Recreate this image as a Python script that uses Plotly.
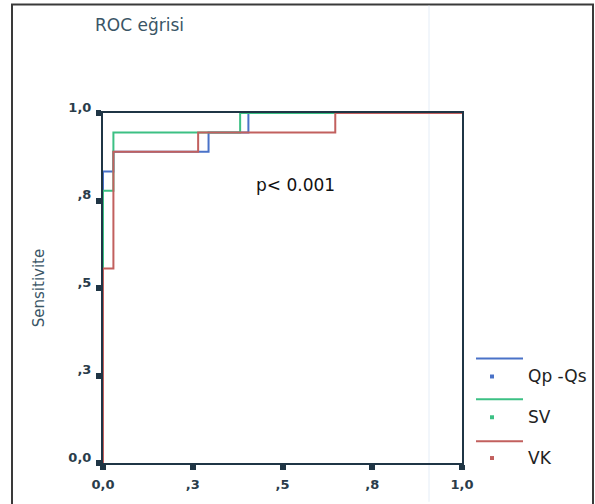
import plotly.graph_objects as go

# ---- data ----
tick_vals = [0, 0.25, 0.5, 0.75, 1.0]
tick_text = ["0,0", ",3", ",5", ",8", "1,0"]

series_names = ["Qp -Qs", "SV", "VK"]
fpr_qp = [0, 0, 0.029, 0.294, 0.405, 1.0]
tpr_qp = [0, 0.833, 0.889, 0.944, 1.0, 1.0]
fpr_sv = [0, 0, 0.029, 0.382, 1.0]
tpr_sv = [0, 0.778, 0.944, 1.0, 1.0]
fpr_vk = [0, 0, 0.029, 0.265, 0.647, 1.0]
tpr_vk = [0, 0.556, 0.889, 0.944, 1.0, 1.0]
colors = ["#4a72c8", "#3cc084", "#c2605e"]

W, H = 595, 504
L, R, T, B = 103, 462, 113, 465  # plot area in px


def px(xp):
    return (xp - L) / (R - L)


def py(yp):
    return (B - yp) / (B - T)


fig = go.Figure()
for name, xs, ys, c in zip(series_names, [fpr_qp, fpr_sv, fpr_vk],
                           [tpr_qp, tpr_sv, tpr_vk], colors):
    fig.add_trace(go.Scatter(x=xs, y=ys, mode="lines", name=name,
                             line=dict(color=c, width=2, shape="hv"),
                             cliponaxis=False, showlegend=False))

frame_col = "#1f3545"
tickfont = dict(family="DejaVu Sans", size=13, color="#2a3c4a", weight="bold")
axis_common = dict(range=[0, 1], tickvals=tick_vals, ticktext=tick_text,
                   showgrid=False, zeroline=False, showline=True, mirror=True,
                   linecolor=frame_col, linewidth=2, ticks="outside",
                   ticklen=5, tickwidth=6, tickcolor=frame_col,
                   tickfont=tickfont, layer="below traces", fixedrange=True)

fig.update_xaxes(**axis_common, ticklabelstandoff=3)
fig.update_yaxes(**axis_common, ticklabelstandoff=2, ticklabelshift=-6)
fig.update_yaxes(title=dict(text="Sensitivite", standoff=20,
                            font=dict(family="DejaVu Sans", size=15, color="#3a5566")))

shapes = []
# outer frame
shapes.append(dict(type="rect", xref="paper", yref="paper",
                   x0=px(12), x1=px(593), y0=py(520), y1=py(4),
                   line=dict(color="#3a3a3a", width=2), layer="below"))
# faint scan line
shapes.append(dict(type="line", xref="paper", yref="paper",
                   x0=px(429), x1=px(429), y0=py(504), y1=py(5),
                   line=dict(color="#e4edf7", width=1), layer="below"))

annotations = [
    dict(text="ROC eğrisi", xref="paper", yref="paper", x=px(93), y=py(24),
         xanchor="left", yanchor="middle", showarrow=False,
         font=dict(family="DejaVu Sans", size=17, color="#3a5566")),
    dict(text="p< 0.001", xref="paper", yref="paper", x=px(254), y=py(185),
         xanchor="left", yanchor="middle", showarrow=False,
         font=dict(family="DejaVu Sans", size=17, color="#111111")),
]

# manual legend (line above, marker below)
leg_line_y = [360, 401, 443]
leg_mark_y = [378, 419, 460]
for name, c, ly, my in zip(series_names, colors, leg_line_y, leg_mark_y):
    shapes.append(dict(type="line", xref="paper", yref="paper",
                       x0=px(476), x1=px(523), y0=py(ly), y1=py(ly),
                       line=dict(color=c, width=2)))
    shapes.append(dict(type="rect", xref="paper", yref="paper",
                       x0=px(490), x1=px(494), y0=py(my + 2), y1=py(my - 2),
                       line=dict(width=0), fillcolor=c))
    annotations.append(dict(text=name, xref="paper", yref="paper", x=px(526), y=py(my),
                            xanchor="left", yanchor="middle", showarrow=False,
                            font=dict(family="DejaVu Sans", size=17, color="#222222")))

fig.update_layout(width=W, height=H, margin=dict(l=L, r=W - R, t=T, b=H - B),
                  paper_bgcolor="white", plot_bgcolor="white",
                  shapes=shapes, annotations=annotations, showlegend=False)

fig.write_html("out.html")
